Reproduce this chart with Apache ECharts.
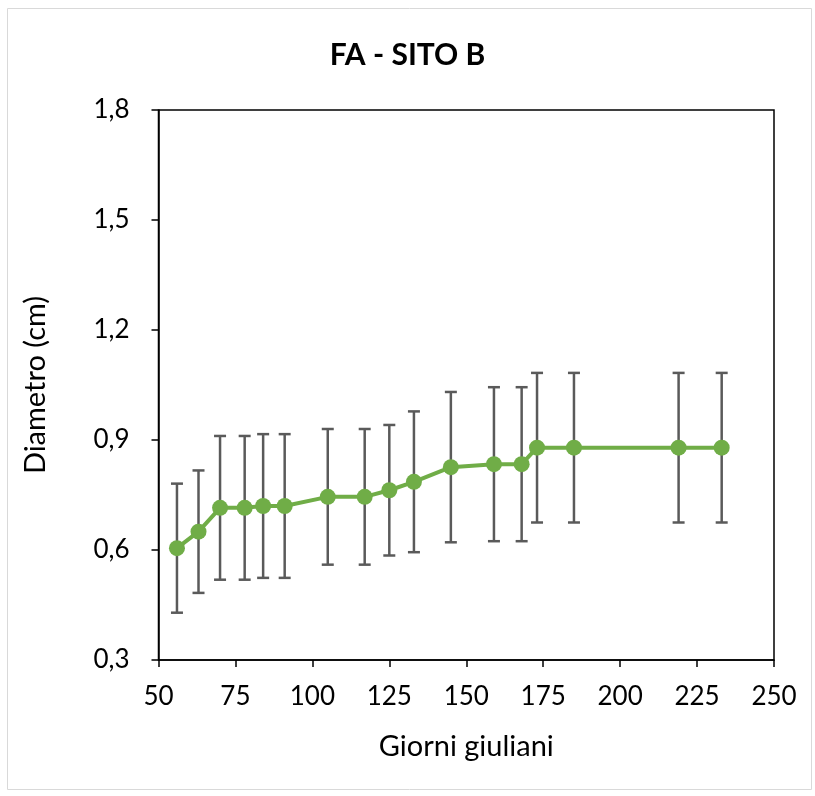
<!DOCTYPE html>
<html><head><meta charset="utf-8">
<script src="https://cdn.jsdelivr.net/npm/echarts@6/dist/echarts.min.js"></script>
<style>html,body{margin:0;padding:0;background:#fff}#c{width:815px;height:796px}</style>
</head><body><div id="c"></div>
<script>
const days = [56, 63, 70, 78, 84, 91, 105, 117, 125, 133, 145, 159, 168, 173, 185, 219, 233];
const diameter = [0.605, 0.650, 0.715, 0.715, 0.720, 0.720, 0.745, 0.745, 0.763, 0.786, 0.826, 0.834, 0.834, 0.879, 0.879, 0.879, 0.879];
const errorSD = [0.176, 0.167, 0.196, 0.196, 0.196, 0.196, 0.185, 0.185, 0.178, 0.192, 0.205, 0.21, 0.21, 0.204, 0.204, 0.204, 0.204];
const titleText = 'FA - SITO B';
const xName = 'Giorni giuliani';
const yName = 'Diametro (cm)';

const FONT = 'Lato';
const chart = echarts.init(document.getElementById('c'));
const lineData = days.map((d, i) => [d, diameter[i]]);
const errData = days.map((d, i) => [d, diameter[i] - errorSD[i], diameter[i] + errorSD[i]]);

chart.setOption({
  animation: false,
  graphic: [{
    type: 'rect', shape: {x: 7.5, y: 8.5, width: 804, height: 781},
    style: {fill: 'none', stroke: '#d9d9d9', lineWidth: 1}, z: -1
  }],
  title: {
    text: titleText, left: 'center', top: 35,
    textStyle: {fontFamily: FONT, fontWeight: 'bold', fontSize: 30, color: '#000'}
  },
  grid: {left: 158.5, right: 41, top: 110, bottom: 136, show: true, borderColor: '#000', borderWidth: 1.5, backgroundColor: 'transparent'},
  xAxis: {
    type: 'value', min: 50, max: 250, interval: 25,
    name: xName, nameLocation: 'middle', nameGap: 72,
    nameTextStyle: {fontFamily: FONT, fontSize: 29, color: '#000'},
    axisLine: {show: true, onZero: false, lineStyle: {color: '#000', width: 1.5}},
    axisTick: {show: true, inside: false, length: 7, lineStyle: {color: '#000', width: 1.5}},
    axisLabel: {fontFamily: FONT, fontSize: 26, color: '#000', margin: 24},
    splitLine: {show: false}
  },
  yAxis: {
    type: 'value', min: 0.3, max: 1.8, interval: 0.3,
    name: yName, nameLocation: 'middle', nameGap: 108, nameRotate: 90,
    nameTextStyle: {fontFamily: FONT, fontSize: 29, color: '#000'},
    axisLine: {show: true, lineStyle: {color: '#000', width: 1.5}},
    axisTick: {show: true, inside: false, length: 7, lineStyle: {color: '#000', width: 1.5}},
    axisLabel: {fontFamily: FONT, fontSize: 26, color: '#000', margin: 29,
      formatter: v => v.toFixed(1).replace('.', ',')},
    splitLine: {show: false}
  },
  series: [
    {
      type: 'custom', z: 1,
      data: errData,
      renderItem: function (params, api) {
        const x = api.value(0);
        const lo = api.coord([x, api.value(1)]);
        const hi = api.coord([x, api.value(2)]);
        const hw = 6;
        const st = {stroke: '#5a5a5a', lineWidth: 2.5};
        return {type: 'group', children: [
          {type: 'line', shape: {x1: lo[0], y1: lo[1], x2: hi[0], y2: hi[1]}, style: st},
          {type: 'line', shape: {x1: lo[0] - hw, y1: lo[1], x2: lo[0] + hw, y2: lo[1]}, style: st},
          {type: 'line', shape: {x1: hi[0] - hw, y1: hi[1], x2: hi[0] + hw, y2: hi[1]}, style: st}
        ]};
      }
    },
    {
      type: 'line', z: 3, data: lineData,
      symbol: 'circle', symbolSize: 16,
      lineStyle: {color: '#70AD47', width: 4},
      itemStyle: {color: '#70AD47'}
    }
  ]
});
</script></body></html>
